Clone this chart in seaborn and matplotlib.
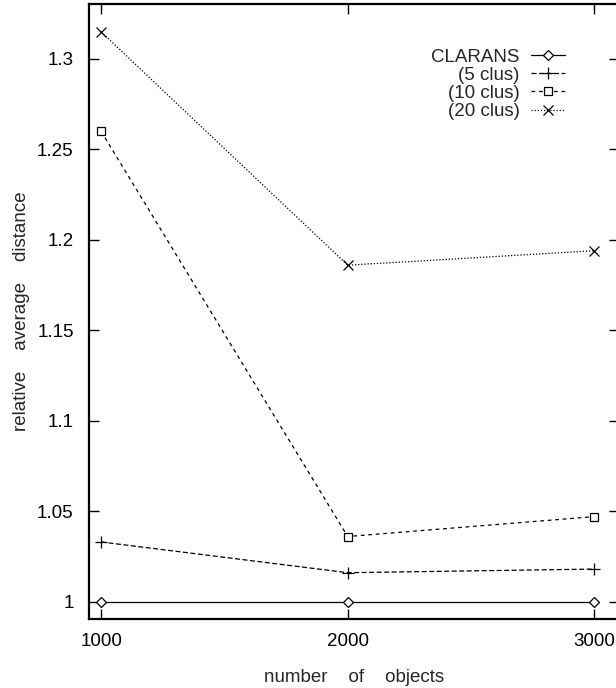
import matplotlib
matplotlib.use("Agg")
import matplotlib.pyplot as plt
import seaborn as sns
import pandas as pd

# Number of objects clustered
objects = [1000, 2000, 3000]

# Relative average distance per method
clarans = [1.000, 1.000, 1.000]
clus5 = [1.033, 1.016, 1.018]
clus10 = [1.260, 1.036, 1.047]
clus20 = [1.315, 1.186, 1.194]

series_names = ["CLARANS", "(5 clus)", "(10 clus)", "(20 clus)"]
series_values = [clarans, clus5, clus10, clus20]

y_ticks = [1.0, 1.05, 1.1, 1.15, 1.2, 1.25, 1.3]
y_tick_labels = ["1", "1.05", "1.1", "1.15", "1.2", "1.25", "1.3"]
x_ticks = [1000, 2000, 3000]

sns.set_style("ticks")
plt.rcParams["font.family"] = ["Liberation Sans", "DejaVu Sans"]

frames = []
for name, vals in zip(series_names, series_values):
    frames.append(pd.DataFrame({"objects": objects, "distance": vals, "series": name}))
df = pd.concat(frames, ignore_index=True)

styles = {
    "CLARANS": dict(marker="D", ms=5, linestyle="-"),
    "(5 clus)": dict(marker="+", ms=8, linestyle=(0, (4, 2))),
    "(10 clus)": dict(marker="s", ms=6, linestyle=(0, (3, 3))),
    "(20 clus)": dict(marker="x", ms=7, linestyle=(0, (1, 1.5))),
}

FS = 13.5

fig = plt.figure(figsize=(6.16, 6.88), dpi=100)
ax = fig.add_axes([89 / 616, 69 / 688, 530 / 616, 615 / 688])

for name in series_names:
    st = styles[name]
    sub = df[df["series"] == name]
    sns.lineplot(
        data=sub, x="objects", y="distance", ax=ax, label=name,
        color="black", lw=0.9, marker=st["marker"], markersize=st["ms"],
        linestyle=st["linestyle"], markerfacecolor="white",
        markeredgecolor="black", markeredgewidth=0.9,
    )

ax.set_xlim(951, 3100)
ax.set_ylim(0.9904, 1.3304)
ax.set_xticks(x_ticks)
ax.set_xticklabels([str(v) for v in x_ticks])
ax.set_yticks(y_ticks)
ax.set_yticklabels(y_tick_labels)

ax.tick_params(axis="both", direction="in", length=7, width=1, labelsize=FS,
               top=True, right=True, colors="black")
ax.tick_params(axis="x", pad=10)
ax.tick_params(axis="y", pad=11)
for sp in ax.spines.values():
    sp.set_visible(True)
    sp.set_linewidth(1.6)
    sp.set_color("black")

ax.set_xlabel("number    of    objects", fontsize=FS, labelpad=14)
ax.set_ylabel("relative    average    distance", fontsize=FS, labelpad=5)

leg = ax.legend(loc="upper right", bbox_to_anchor=(0.913, 0.94), frameon=False,
                markerfirst=False, fontsize=FS, handlelength=1.85,
                handletextpad=0.6, labelspacing=0.06, borderaxespad=0)

fig.savefig("out.png", dpi=100)
